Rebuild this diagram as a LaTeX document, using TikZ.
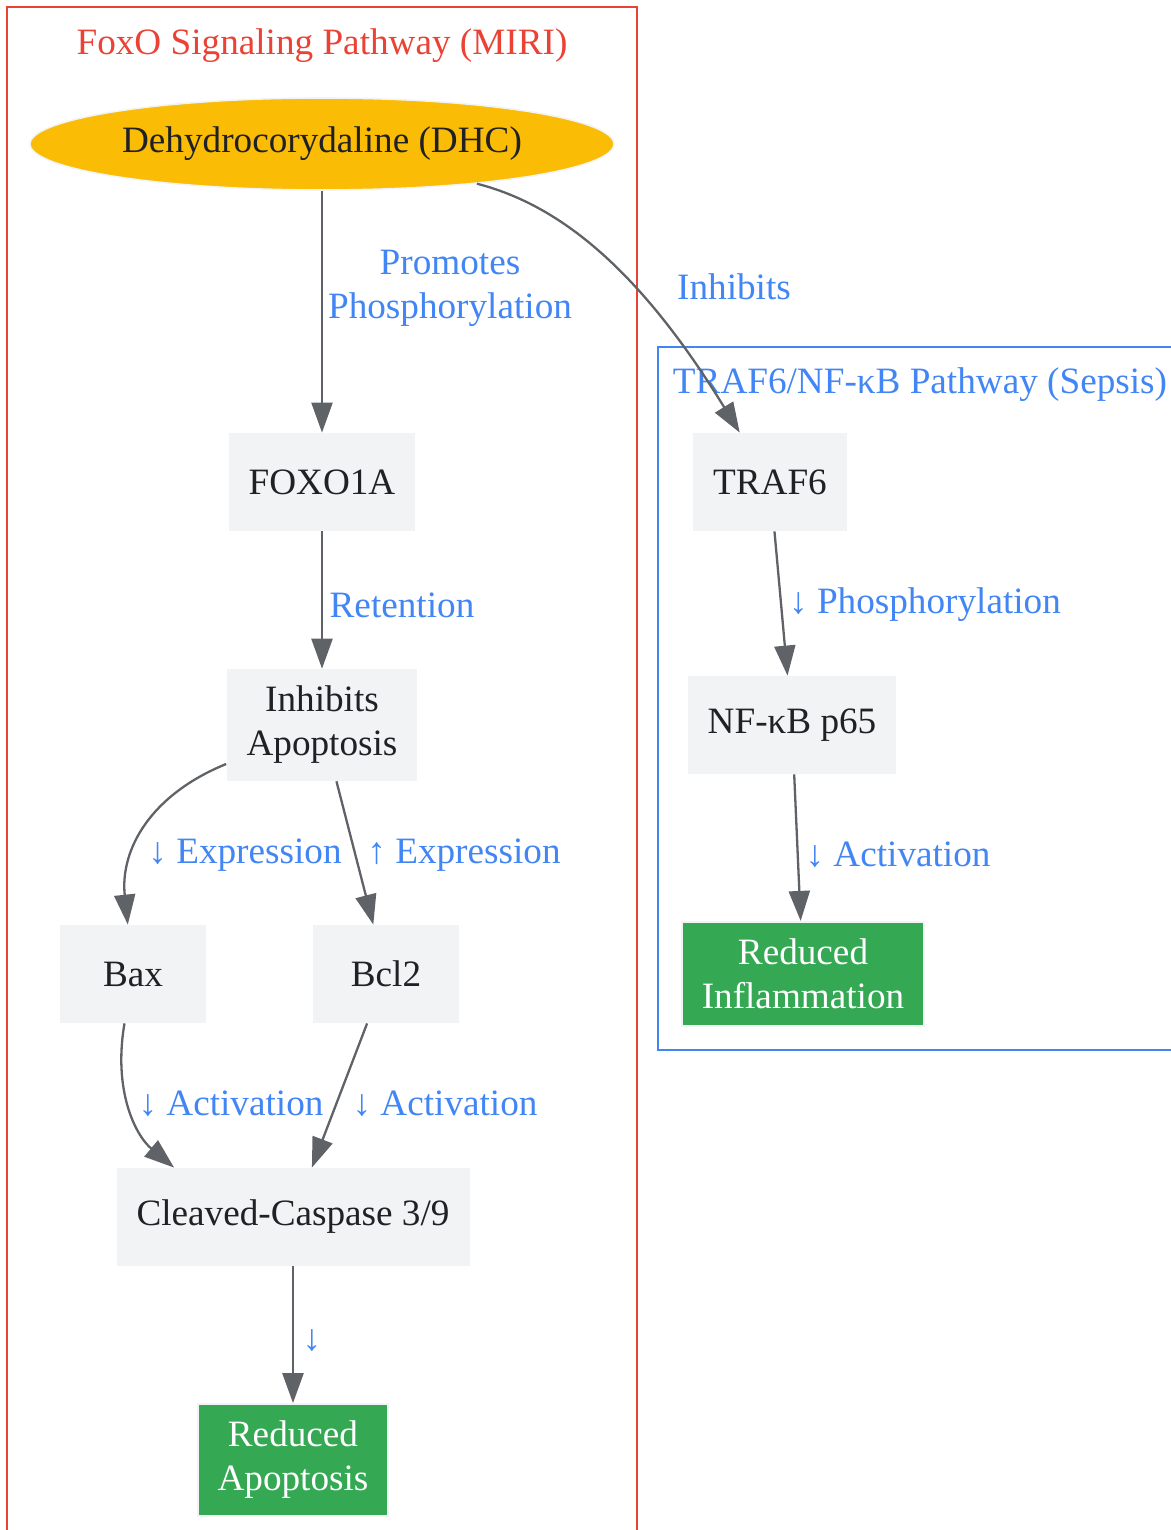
\documentclass[tikz,border=0pt]{standalone}
\usepackage{fontspec}
\setmainfont{Liberation Serif}
\usetikzlibrary{arrows.meta,shapes.geometric}
\definecolor{nodegray}{HTML}{F1F3F4}
\definecolor{textdark}{HTML}{202124}
\definecolor{edgegray}{HTML}{5F6368}
\definecolor{lblblue}{HTML}{4285F4}
\definecolor{clred}{HTML}{EA4335}
\definecolor{dhcyellow}{HTML}{FBBC05}
\definecolor{okgreen}{HTML}{34A853}
\tikzset{
  every node/.style={font=\fontsize{18.6}{22}\selectfont},
  box/.style={fill=nodegray, text=textdark, minimum width=73pt, minimum height=49pt,
    inner xsep=10pt, inner ysep=8.5pt, align=center},
  outcome/.style={box, fill=okgreen, text=white, draw=nodegray, line width=1pt},
  drug/.style={ellipse, fill=dhcyellow, draw=nodegray, line width=0.8pt, text=textdark,
    minimum width=292pt, minimum height=46pt, inner sep=0pt},
  lbl/.style={text=lblblue, align=center, inner sep=0pt},
  edge/.style={draw=edgegray, line width=1.15pt, -{Triangle[length=15pt,width=10.5pt]}},
}
\begin{document}
\begin{tikzpicture}[x=0.5pt,y=-0.5pt]
        \useasboundingbox (0,0) rectangle (1171,1530);
        \draw[clred, line width=1.1pt] (7,7) rectangle (637,1570);
        \draw[lblblue, line width=1.1pt] (658,347) rectangle (1200,1050);
        \node[text=clred, inner sep=0pt] (miri) at (322,46) {FoxO Signaling Pathway (MIRI)};
        \node[text=lblblue, inner sep=0pt] (sepsis) at (920,385) {TRAF6/NF-κB Pathway (Sepsis)};
        \node[drug] (dhc) at (322,144) {Dehydrocorydaline (DHC)};
        \node[box] (foxo) at (322,482) {FOXO1A};
        \node[box] (inhib) at (322,725) {Inhibits\\Apoptosis};
        \node[box] (bax) at (133,974) {Bax};
        \node[box] (bcl) at (386,974) {Bcl2};
        \node[box] (casp) at (293,1217) {Cleaved-Caspase 3/9};
        \node[outcome] (redapo) at (293,1460) {Reduced\\Apoptosis};
        \node[box] (traf) at (770,482) {TRAF6};
        \node[box] (nfkb) at (792,725) {NF-κB p65};
        \node[outcome] (redinf) at (803,974) {Reduced\\Inflammation};
        \node[lbl] (lpromo) at (450,288) {Promotes\\Phosphorylation};
        \node[lbl] (linhib) at (734,287) {Inhibits};
        \node[lbl] (lret) at (402,605) {Retention};
        \node[lbl] (lbax) at (245,855) {↓ Expression};
        \node[lbl] (lbcl) at (464,855) {↑ Expression};
        \node[lbl] (lbaxact) at (231,1104) {↓ Activation};
        \node[lbl] (lbclact) at (445,1104) {↓ Activation};
        \node[lbl] (lcasp) at (312,1341) {↓};
        \node[lbl] (ltraf) at (925,605) {↓ Phosphorylation};
        \node[lbl] (lnfkb) at (898,855) {↓ Activation};
        \draw[edge] (dhc) -- (foxo);
        \draw[edge] (dhc) .. controls (560,205) and (640,270) .. (traf);
        \draw[edge] (foxo) -- (inhib);
        \draw[edge] (inhib) .. controls (150,795) and (120,850) .. (bax);
        \draw[edge] (inhib) -- (bcl);
        \draw[edge] (bax) .. controls (113,1090) and (135,1135) .. ([xshift=29pt]casp.north west);
        \draw[edge] (bcl) -- (casp);
        \draw[edge] (casp) -- (redapo);
        \draw[edge] (traf) -- (nfkb);
        \draw[edge] (nfkb) -- (redinf);
    \end{tikzpicture}
\end{document}
